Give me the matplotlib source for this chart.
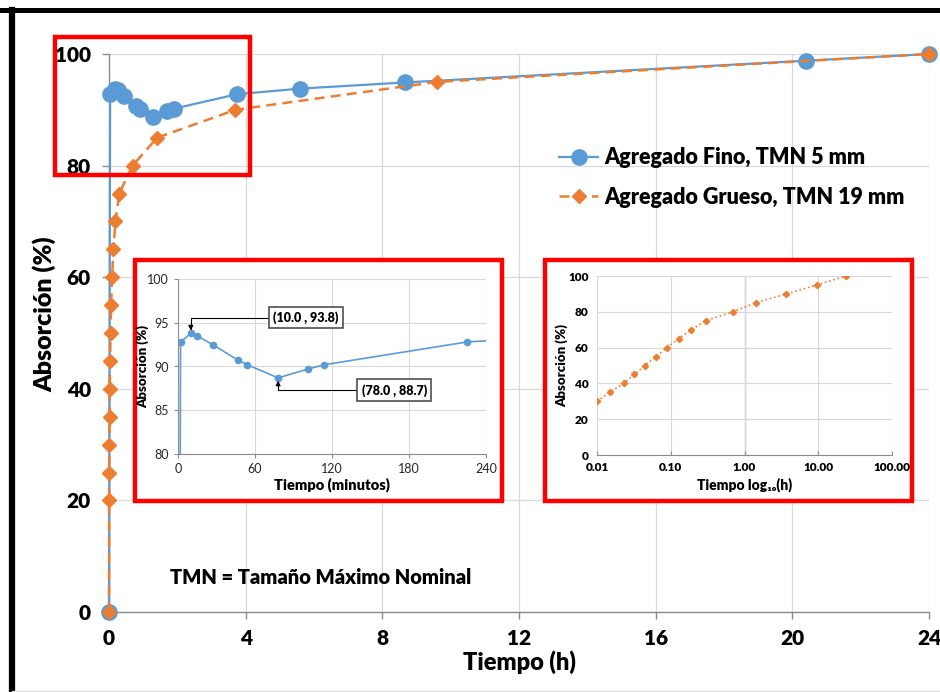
import numpy as np
import matplotlib
matplotlib.use('Agg')
import matplotlib.pyplot as plt
from matplotlib.patches import Rectangle
from matplotlib.lines import Line2D

plt.rcParams['font.family'] = ['Lato', 'DejaVu Sans']

# Agregado fino: tiempo en minutos y absorcion (%)
fino_min = [0, 2, 10, 15, 27, 47, 54, 78, 101, 114, 225, 336, 520, 1224, 1440]
fino_abs = [0, 92.8, 93.8, 93.5, 92.5, 90.7, 90.2, 88.7, 89.7, 90.2, 92.8, 93.8, 94.9, 98.8, 100]

# Agregado grueso: tiempo en horas y absorcion (%)
grueso_h = [0, 0.003, 0.006, 0.010, 0.015, 0.023, 0.032, 0.045, 0.063, 0.089,
            0.128, 0.19, 0.30, 0.69, 1.41, 3.7, 9.6, 24]
grueso_abs = [0, 20, 25, 30, 35, 40, 45, 50, 55, 60, 65, 70, 75, 80, 85, 90, 95, 100]

# puntos destacados en el detalle de minutos
pico = 2   # indice del maximo
valle = 7  # indice del minimo

main_xticks = [0, 4, 8, 12, 16, 20, 24]
main_yticks = [0, 20, 40, 60, 80, 100]
min_xticks = [0, 60, 120, 180, 240]
min_yticks = [80, 85, 90, 95, 100]
log_xticks = [0.01, 0.1, 1, 10, 100]
log_xlabels = ['0.01', '0.10', '1.00', '10.00', '100.00']
log_yticks = [0, 20, 40, 60, 80, 100]

BLUE = '#5B9BD5'
ORANGE = '#ED7D31'
GRID = '#D9D9D9'
AXIS = '#8C8C8C'

W, H = 940, 692
fino_h = np.array(fino_min) / 60.0


def fig_rect(x0, y0, x1, y1):
    # pixel box (origin top-left) -> figure fraction
    return [x0 / W, 1 - y1 / H, (x1 - x0) / W, (y1 - y0) / H]


fig = plt.figure(figsize=(9.4, 6.92), dpi=100)
ax = fig.add_axes(fig_rect(109, 54, 929, 612))

ax.plot(fino_h, fino_abs, '-o', color=BLUE, lw=1.6, ms=11, clip_on=False,
        zorder=3, label='Agregado Fino, TMN 5 mm')
ax.plot(grueso_h, grueso_abs, '--D', color=ORANGE, lw=1.8, ms=7.5, dashes=(4, 2.5),
        clip_on=False, zorder=4, label='Agregado Grueso, TMN 19 mm')

ax.set_xlim(0, 24)
ax.set_ylim(0, 100)
ax.set_xticks(main_xticks)
ax.set_yticks(main_yticks)
ax.grid(color=GRID, lw=0.9)
ax.set_axisbelow(True)
for s in ['top', 'right']:
    ax.spines[s].set_visible(False)
for s in ['left', 'bottom']:
    ax.spines[s].set_color(AXIS)
    ax.spines[s].set_linewidth(1.0)
ax.tick_params(axis='both', color=AXIS, length=5, width=1.0, labelsize=15)
ax.tick_params(axis='x', pad=7)
ax.tick_params(axis='y', pad=8)
for lab in ax.get_xticklabels() + ax.get_yticklabels():
    lab.set_fontweight('heavy')
ax.set_xlabel('Tiempo (h)', fontsize=17, fontweight='heavy', labelpad=2)
ax.set_ylabel('Absorción (%)', fontsize=18, fontweight='heavy')
ax.yaxis.set_label_coords((56 - 109) / 820, (612 - 314) / 558)

ax.legend(loc='upper left', bbox_to_anchor=(540 / W, 1 - 128 / H),
          bbox_transform=fig.transFigure, frameon=False,
          prop=dict(weight='heavy', size=15.5), handlelength=1.8,
          handletextpad=0.3, labelspacing=0.85)

ax.text(170 / W, 1 - 578 / H, 'TMN = Tamaño Máximo Nominal', transform=fig.transFigure,
        fontsize=14.5, fontweight='heavy', va='center', ha='left')

# marcos rojos
r = fig_rect(55, 37, 250, 175)
fig.add_artist(Rectangle(r[:2], r[2], r[3], transform=fig.transFigure,
                         fill=False, ec='red', lw=3.2, zorder=7))
for box in [(135, 260, 502, 501), (545, 260, 912, 501)]:
    r = fig_rect(*box)
    fig.add_artist(Rectangle(r[:2], r[2], r[3], transform=fig.transFigure,
                             fc='white', ec='red', lw=3.2, zorder=5))

# detalle en minutos
ins1 = fig.add_axes(fig_rect(178, 279, 486, 454), zorder=6)
ins1.plot(fino_min, fino_abs, '-o', color=BLUE, lw=1.2, ms=4.5)
ins1.set_xlim(0, 240)
ins1.set_ylim(80, 100)
ins1.set_xticks(min_xticks)
ins1.set_yticks(min_yticks)
ins1.grid(color=GRID, lw=0.8)
ins1.set_axisbelow(True)
for s in ['top', 'right']:
    ins1.spines[s].set_visible(False)
for s in ['left', 'bottom']:
    ins1.spines[s].set_color(AXIS)
ins1.tick_params(color=AXIS, length=3, labelsize=9, labelcolor='#262626')
ins1.set_xlabel('Tiempo (minutos)', fontsize=10.5, fontweight='heavy', labelpad=2)
ins1.set_ylabel('Absorción (%)', fontsize=9.5, fontweight='heavy')
ins1.yaxis.set_label_coords((149 - 178) / 308, 0.5)

arrow = dict(arrowstyle='-|>', color='black', lw=0.8, mutation_scale=7,
             shrinkA=0, shrinkB=2, connectionstyle='angle,angleA=0,angleB=90,rad=0')
box = dict(boxstyle='square,pad=0.35', fc='white', ec='#404040', lw=1.1)
ins1.annotate(f'({fino_min[pico]:.1f} , {fino_abs[pico]:.1f})',
              xy=(fino_min[pico], fino_abs[pico]), xytext=(74, 95.6),
              fontsize=9, fontweight='heavy', va='center', ha='left',
              bbox=box, arrowprops=arrow)
ins1.annotate(f'({fino_min[valle]:.1f} , {fino_abs[valle]:.1f})',
              xy=(fino_min[valle], fino_abs[valle]), xytext=(143, 87.3),
              fontsize=9, fontweight='heavy', va='center', ha='left',
              bbox=box, arrowprops=arrow)

# detalle en escala logaritmica
ins2 = fig.add_axes(fig_rect(597, 276, 892, 455), zorder=6)
gh = np.array(grueso_h)
ga = np.array(grueso_abs)
sel = gh >= 0.01
ins2.plot(gh[sel], ga[sel], ':D', color=ORANGE, lw=1.2, ms=3.2)
ins2.set_xscale('log')
ins2.set_xlim(0.01, 100)
ins2.set_ylim(0, 100)
ins2.set_xticks(log_xticks)
ins2.set_xticklabels(log_xlabels)
ins2.minorticks_off()
ins2.set_yticks(log_yticks)
ins2.grid(color=GRID, lw=0.8)
ins2.set_axisbelow(True)
for s in ['top', 'right', 'left']:
    ins2.spines[s].set_visible(False)
ins2.spines['bottom'].set_color(AXIS)
ins2.tick_params(axis='x', color=AXIS, length=3, direction='in', labelsize=8.5, pad=5)
ins2.tick_params(axis='y', length=0, labelsize=8.5, pad=6)
for lab in ins2.get_xticklabels() + ins2.get_yticklabels():
    lab.set_fontweight('heavy')
ins2.set_xlabel('Tiempo log₁₀(h)', fontsize=10, fontweight='heavy', labelpad=3)
ins2.set_ylabel('Absorción (%)', fontsize=9.5, fontweight='heavy')
ins2.yaxis.set_label_coords((568 - 597) / 295, 0.5)
vax = ins2.secondary_yaxis(0.5)
vax.spines['left'].set_color('#7F7F7F')
vax.spines['left'].set_linewidth(1.2)
vax.set_yticks(log_yticks)
vax.tick_params(color='#7F7F7F', length=3, labelleft=False, labelright=False)

# borde de la figura
fig.add_artist(Line2D([0, 1], [1 - 9.5 / H] * 2, color='black', lw=3.6,
                      transform=fig.transFigure))
fig.add_artist(Line2D([12 / W] * 2, [0, 1 - 9.5 / H], color='black', lw=4.5,
                      transform=fig.transFigure))
fig.add_artist(Line2D([12 / W, 1], [1.5 / H] * 2, color='#E0E0E0', lw=1,
                      transform=fig.transFigure))

fig.savefig('out.png', dpi=100)
